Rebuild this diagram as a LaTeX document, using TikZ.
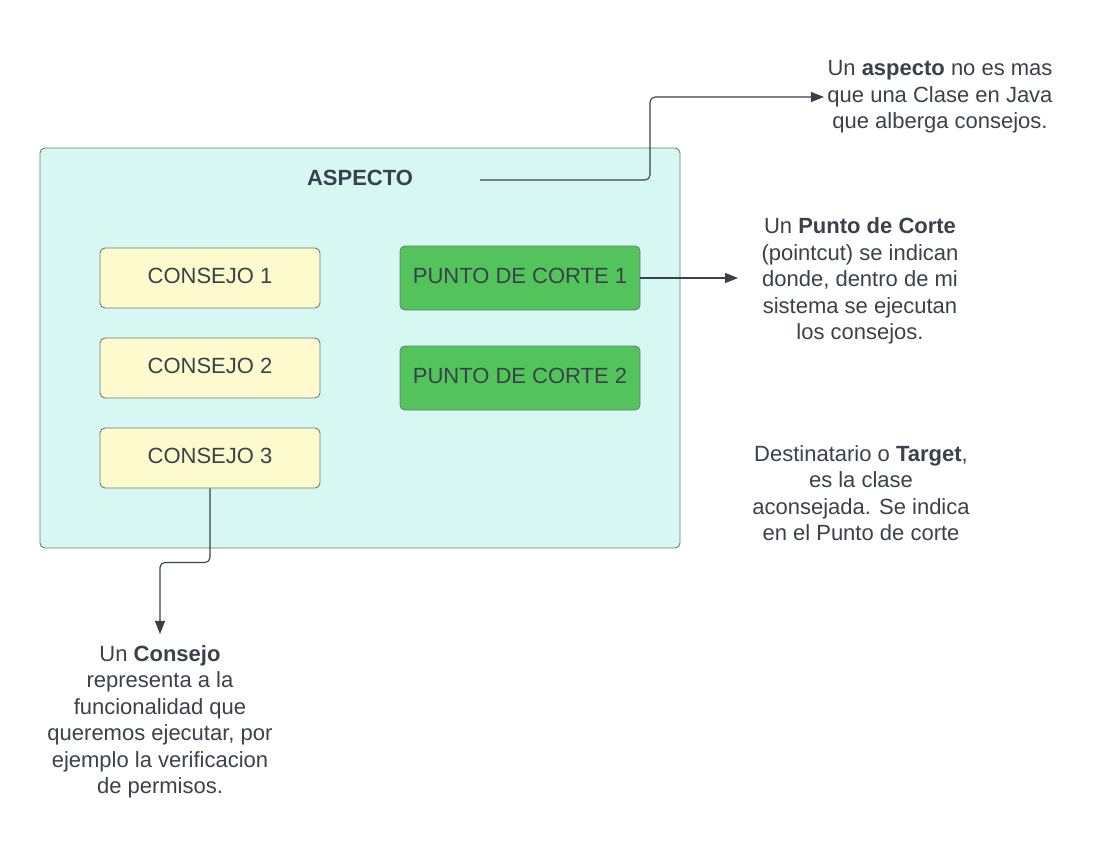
\documentclass[tikz,border=0pt]{standalone}
\usepackage{fontspec}
\setmainfont{Liberation Sans}
\usetikzlibrary{arrows.meta}
\definecolor{ink}{HTML}{3A414A}
\definecolor{aspfill}{HTML}{D7F8F2}
\definecolor{consfill}{HTML}{FDFACD}
\definecolor{pcfill}{HTML}{53C45C}
\definecolor{edgegray}{HTML}{6F7A80}

\begin{document}
\begin{tikzpicture}[x=1pt,y=-1pt,
  every node/.style={text=ink,font=\fontsize{22}{26.5}\selectfont},
  box/.style={draw=edgegray,line width=0.9pt,rounded corners=5pt,minimum width=220pt,minimum height=60pt,text depth=5pt},
  note/.style={align=center},
  link/.style={draw=ink,line width=1.1pt,rounded corners=5pt,-{Triangle[length=13pt,width=10pt]}}]
  \useasboundingbox (0,0) rectangle (1100,845);
  % aspecto
  \node[box,fill=aspfill,minimum width=640pt,minimum height=400pt] (aspecto) at (360,348) {};
  \node[font=\fontsize{22}{26}\selectfont\bfseries] (asptitle) at (360,178) {ASPECTO};
  \foreach \i/\y in {1/278,2/368,3/458}
    \node[box,fill=consfill] (consejo\i) at (210,\y) {CONSEJO \i};
  \foreach \i/\y in {1/278,2/378}
    \node[box,fill=pcfill,minimum width=240pt,minimum height=64pt] (punto\i) at (520,\y) {PUNTO DE CORTE \i};
  % notas
  \node[note] (aspnote) at (940,97) {Un \textbf{aspecto} no es mas\\que una Clase en Java\\que alberga consejos.};
  \node[note] (ptnote) at (860,281) {Un \textbf{Punto de Corte}\\(pointcut) se indican\\donde, dentro de mi\\sistema se ejecutan\\los consejos.};
  \node[note] (tgtnote) at (861,493) {Destinatario o \textbf{Target},\\es la clase\\aconsejada. Se indica\\en el Punto de corte};
  \node[note] (consnote) at (160,722) {Un \textbf{Consejo}\\representa a la\\funcionalidad que\\queremos ejecutar, por\\ejemplo la verificacion\\de permisos.};
  % flechas
  \coordinate (aspstart) at (480,180);
  \draw[link] (aspstart) -- ++(170,0) |- (aspnote.west);
  \draw[link,shorten >=20pt] (punto1.east) -- (punto1.east -| ptnote.west);
  \draw[link,shorten >=8pt] (consejo3.south) -- ++(0,74) -| (consnote.north);
\end{tikzpicture}
\end{document}
